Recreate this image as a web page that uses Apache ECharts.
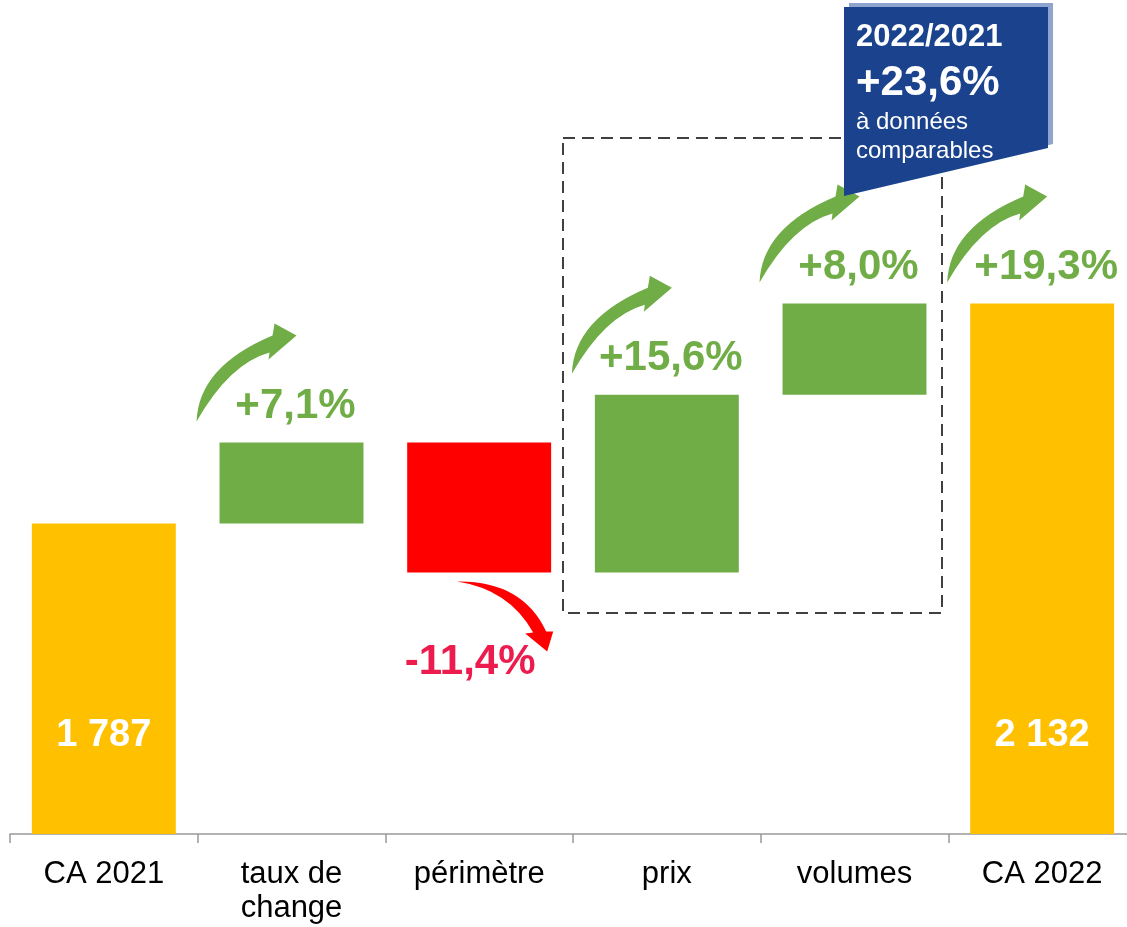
<!DOCTYPE html>
<html>
<head>
<meta charset="utf-8">
<script src="https://cdn.jsdelivr.net/npm/echarts@6/dist/echarts.min.js"></script>
<style>
html, body { margin: 0; padding: 0; background: #fff; }
#main { width: 1127px; height: 927px; }
</style>
</head>
<body>
<div id="main"></div>
<script>
var categories = ['CA 2021', 'taux de\nchange', 'périmètre', 'prix', 'volumes', 'CA 2022'];
var values = [1787, 127, -204, 279, 143, 2132];
var isTotal = [true, false, false, false, false, true];
var totalLabels = ['1 787', '', '', '', '', '2 132'];
var changeLabels = ['', '+7,1%', '-11,4%', '+15,6%', '+8,0%', '+19,3%'];

var Y_MIN = 1300, Y_MAX = 2550;
var FONT = '"Liberation Sans", Arial, sans-serif';

// build [index, from, to] for the waterfall
var rows = [];
var running = 0;
values.forEach(function (v, i) {
    if (isTotal[i]) {
        rows.push([i, Y_MIN, v]);
        running = v;
    } else {
        rows.push([i, running, running + v]);
        running += v;
    }
});

var upArrow = 'M0 0 Q2 -55 76 -86 L78 -98 L100 -86 L72 -62 L73 -69 Q33 -58 0 0 Z';
var downArrow = 'M0 0 Q65 -1 89 50 L96 50 L90 70 L68 52 L76 51 Q52 8 0 0 Z';

function renderItem(params, api) {
    var i = api.value(0);
    var a = api.coord([i, api.value(1)]);
    var b = api.coord([i, api.value(2)]);
    var w = api.size([1, 0])[0] * 0.767;
    var cx = a[0];
    var top = Math.min(a[1], b[1]), bottom = Math.max(a[1], b[1]);
    var delta = api.value(2) - api.value(1);
    var color = isTotal[i] ? '#FFC000' : (delta >= 0 ? '#70AD47' : '#FF0000');
    var children = [{
        type: 'rect',
        shape: { x: cx - w / 2, y: top, width: w, height: bottom - top },
        style: { fill: color }
    }];
    if (totalLabels[i]) {
        children.push({
            type: 'text',
            style: {
                text: totalLabels[i], x: cx, y: bottom - 98,
                align: 'center', verticalAlign: 'middle',
                fill: '#fff', font: 'bold 38px ' + FONT
            }
        });
    }
    var lbl = changeLabels[i];
    if (lbl) {
        var up = lbl.charAt(0) === '+';
        if (up) {
            children.push({
                type: 'path', x: cx - w / 2 - 23, y: top - 21,
                shape: { pathData: upArrow },
                style: { fill: '#70AD47' }
            });
            children.push({
                type: 'text',
                style: {
                    text: lbl, x: cx + 4, y: top - 36,
                    align: 'center', verticalAlign: 'middle',
                    fill: '#70AD47', font: 'bold 42px ' + FONT
                }
            });
        } else {
            children.push({
                type: 'path', x: cx - w / 2 + 50, y: bottom + 9,
                shape: { pathData: downArrow },
                style: { fill: '#FF0000' }
            });
            children.push({
                type: 'text',
                style: {
                    text: lbl, x: cx - 9, y: bottom + 90,
                    align: 'center', verticalAlign: 'middle',
                    fill: '#EC1C4E', font: 'bold 42px ' + FONT
                }
            });
        }
    }
    return { type: 'group', children: children };
}

var chart = echarts.init(document.getElementById('main'));

var option = {
    animation: false,
    grid: { left: 10, width: 1126, top: 37, height: 797, outerBoundsMode: 'none', containLabel: false },
    xAxis: {
        type: 'category',
        data: categories,
        axisLine: { lineStyle: { color: '#999', width: 1.5 } },
        axisTick: { show: true, length: 9, lineStyle: { color: '#999', width: 1.5 } },
        axisLabel: {
            color: '#000', fontSize: 31, fontFamily: FONT,
            lineHeight: 34, margin: 23, interval: 0
        }
    },
    yAxis: {
        type: 'value', min: Y_MIN, max: Y_MAX, show: false,
        splitLine: { show: false }
    },
    series: [{
        type: 'custom',
        renderItem: renderItem,
        clip: false,
        encode: { x: 0, y: [1, 2] },
        data: rows
    }],
    graphic: [
        {
            type: 'rect', z: 50,
            shape: { x: 563, y: 138, width: 379, height: 475 },
            style: { fill: null, stroke: '#404040', lineWidth: 2, lineDash: [12, 7] }
        },
        {
            type: 'polygon', z: 60,
            shape: { points: [[849, 3], [1053, 3], [1053, 144], [849, 192]] },
            style: { fill: '#8FA3CF' }
        },
        {
            type: 'polygon', z: 61,
            shape: { points: [[844, 7], [1048, 7], [1048, 148], [844, 196]] },
            style: { fill: '#1B438D' }
        },
        {
            type: 'text', z: 62,
            style: { text: '2022/2021', x: 856, y: 37, verticalAlign: 'middle', fill: '#fff', font: 'bold 31px ' + FONT }
        },
        {
            type: 'text', z: 62,
            style: { text: '+23,6%', x: 856, y: 83, verticalAlign: 'middle', fill: '#fff', font: 'bold 42px ' + FONT }
        },
        {
            type: 'text', z: 62,
            style: { text: 'à données', x: 856, y: 122, verticalAlign: 'middle', fill: '#fff', font: '24px ' + FONT }
        },
        {
            type: 'text', z: 62,
            style: { text: 'comparables', x: 856, y: 151, verticalAlign: 'middle', fill: '#fff', font: '24px ' + FONT }
        }
    ]
};

chart.setOption(option);
</script>
</body>
</html>
